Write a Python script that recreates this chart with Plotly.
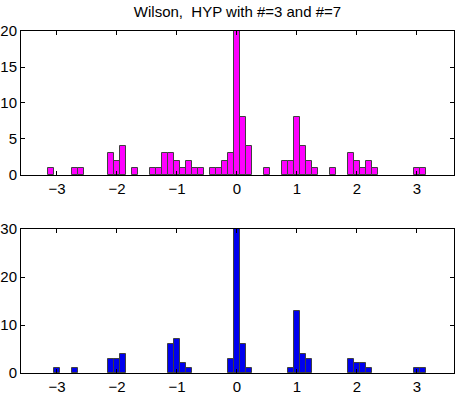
import plotly.graph_objects as go
from plotly.subplots import make_subplots

# bin centres (width 0.1) and counts
centros_hyp3 = [-3.1, -2.7, -2.6, -2.1, -2.0, -1.9, -1.7,
                -1.4, -1.3, -1.2, -1.1, -1.0, -0.9, -0.8, -0.7, -0.6,
                -0.4, -0.3, -0.2, -0.1, 0.0, 0.1, 0.2, 0.5,
                0.8, 0.9, 1.0, 1.1, 1.2, 1.3, 1.6,
                1.9, 2.0, 2.1, 2.2, 2.3, 3.0, 3.1]
contagens_hyp3 = [1, 1, 1, 3, 2, 4, 1,
                  1, 1, 3, 3, 2, 1, 2, 1, 1,
                  1, 1, 2, 3, 20, 8, 4, 1,
                  2, 2, 8, 4, 2, 1, 1,
                  3, 2, 1, 2, 1, 1, 1]

centros_hyp7 = [-3.0, -2.7, -2.1, -2.0, -1.9,
                -1.1, -1.0, -0.9, -0.8,
                -0.1, 0.0, 0.1, 0.2,
                0.9, 1.0, 1.1, 1.2,
                1.9, 2.0, 2.1, 2.2, 3.0, 3.1]
contagens_hyp7 = [1, 1, 3, 3, 4,
                  6, 7, 2, 1,
                  3, 30, 6, 1,
                  1, 13, 4, 3,
                  3, 2, 2, 1, 1, 1]

ticks_x = [-3, -2, -1, 0, 1, 2, 3]
ticks_x_txt = ['\u22123', '\u22122', '\u22121', '0', '1', '2', '3']

fig = make_subplots(rows=2, cols=1, vertical_spacing=0.158)

fig.add_trace(go.Bar(
    x=centros_hyp3, y=contagens_hyp3, width=0.1,
    marker=dict(color='#FF00FF', line=dict(color='#404040', width=1)),
    showlegend=False
), row=1, col=1)

fig.add_trace(go.Bar(
    x=centros_hyp7, y=contagens_hyp7, width=0.1,
    marker=dict(color='#0000EE', line=dict(color='#404040', width=1)),
    showlegend=False
), row=2, col=1)

eixo = dict(
    showline=True, linecolor='black', linewidth=1, mirror='ticks',
    ticks='inside', ticklen=4, tickcolor='black',
    showgrid=False, zeroline=False, automargin=False,
    tickfont=dict(family='Liberation Sans, Arial', size=15, color='black')
)

fig.update_xaxes(range=[-3.6, 3.62], tickvals=ticks_x, ticktext=ticks_x_txt, **eixo)
fig.update_yaxes(**eixo)
fig.update_yaxes(range=[0, 20], tickvals=[0, 5, 10, 15, 20], row=1, col=1)
fig.update_yaxes(range=[0, 30], tickvals=[0, 10, 20, 30], row=2, col=1)

fig.update_layout(
    title=dict(text='Wilson,  HYP with #=3 and #=7', xref='paper', x=0.5,
               xanchor='center', y=0.97, yanchor='middle',
               font=dict(family='Liberation Sans, Arial', size=15, color='black')),
    width=458, height=394,
    margin=dict(l=21, r=4, t=31, b=21),
    plot_bgcolor='white', paper_bgcolor='white',
    bargap=0
)

fig.write_html("out.html", config={'displayModeBar': False},
               post_script="document.body.style.margin='0';")
